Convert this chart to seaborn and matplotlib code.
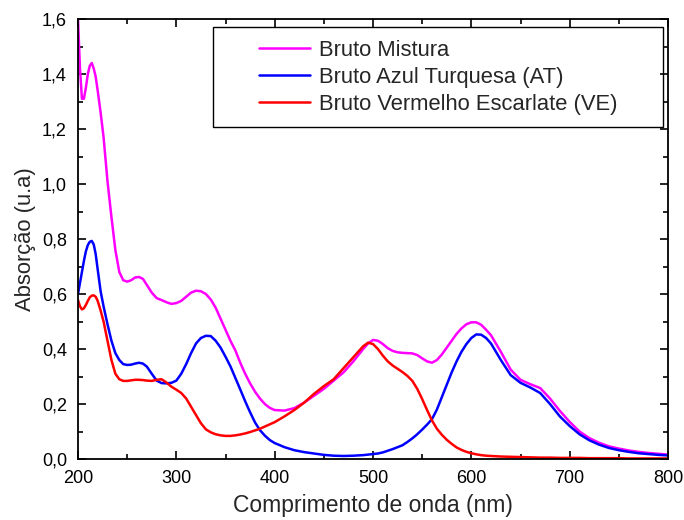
import matplotlib
matplotlib.use("Agg")
import matplotlib.pyplot as plt
from matplotlib.patches import Rectangle
from matplotlib.lines import Line2D
from matplotlib.ticker import MultipleLocator, FuncFormatter
import seaborn as sns
import pandas as pd

# Wavelength grid (nm)
wavelength = [200, 202, 204, 206, 208, 210, 212, 214, 216, 218, 220, 223, 226, 230, 234, 238,
              242, 246, 250, 254, 258, 262, 266, 270, 275, 280, 285, 290, 295, 300, 305, 310,
              315, 320, 325, 330, 335, 340, 345, 350, 355, 360, 365, 370, 375, 380, 385, 390,
              395, 400, 410, 420, 430, 440, 450, 460, 470, 480, 490, 495, 500, 505, 510, 515,
              520, 525, 530, 535, 540, 545, 550, 555, 560, 565, 570, 575, 580, 585, 590, 595,
              600, 605, 610, 615, 620, 625, 630, 640, 650, 660, 670, 680, 690, 700, 710, 720,
              730, 740, 750, 760, 770, 780, 790, 800]

# Bruto Mistura
mistura = [1.60, 1.42, 1.31, 1.31, 1.35, 1.40, 1.43, 1.44, 1.42, 1.39, 1.34, 1.26, 1.17, 1.01, 0.88, 0.76,
           0.68, 0.65, 0.645, 0.65, 0.66, 0.662, 0.655, 0.633, 0.605, 0.585, 0.578, 0.57, 0.564, 0.567, 0.575, 0.59,
           0.605, 0.612, 0.61, 0.60, 0.58, 0.55, 0.51, 0.47, 0.43, 0.395, 0.35, 0.31, 0.275, 0.245, 0.22, 0.20,
           0.186, 0.178, 0.176, 0.185, 0.205, 0.23, 0.255, 0.285, 0.315, 0.355, 0.40, 0.42, 0.433, 0.43, 0.418, 0.403,
           0.393, 0.388, 0.386, 0.385, 0.384, 0.378, 0.366, 0.355, 0.35, 0.36, 0.38, 0.405, 0.43, 0.455, 0.475, 0.49,
           0.497, 0.497, 0.488, 0.47, 0.45, 0.42, 0.39, 0.325, 0.288, 0.272, 0.258, 0.22, 0.175, 0.135, 0.10, 0.076,
           0.059, 0.046, 0.038, 0.031, 0.026, 0.022, 0.019, 0.016]

# Bruto Azul Turquesa (AT)
azul = [0.60, 0.64, 0.68, 0.72, 0.755, 0.778, 0.79, 0.793, 0.78, 0.745, 0.69, 0.61, 0.555, 0.49, 0.43, 0.385,
        0.36, 0.345, 0.342, 0.343, 0.347, 0.35, 0.347, 0.336, 0.31, 0.285, 0.276, 0.275, 0.277, 0.285, 0.31, 0.345,
        0.385, 0.42, 0.44, 0.448, 0.447, 0.43, 0.405, 0.372, 0.337, 0.295, 0.253, 0.21, 0.17, 0.133, 0.105, 0.085,
        0.069, 0.058, 0.043, 0.032, 0.025, 0.02, 0.015, 0.012, 0.011, 0.012, 0.014, 0.016, 0.018, 0.02, 0.024, 0.03,
        0.036, 0.043, 0.05, 0.062, 0.075, 0.09, 0.107, 0.125, 0.145, 0.18, 0.225, 0.27, 0.315, 0.355, 0.39, 0.418,
        0.44, 0.453, 0.452, 0.44, 0.42, 0.39, 0.36, 0.305, 0.277, 0.26, 0.24, 0.20, 0.155, 0.12, 0.09, 0.068,
        0.052, 0.04, 0.032, 0.026, 0.021, 0.018, 0.015, 0.013]

# Bruto Vermelho Escarlate (VE)
vermelho = [0.578, 0.555, 0.544, 0.548, 0.56, 0.575, 0.588, 0.594, 0.595, 0.59, 0.575, 0.54, 0.50, 0.43, 0.36, 0.31,
            0.29, 0.284, 0.284, 0.286, 0.288, 0.288, 0.287, 0.285, 0.284, 0.288, 0.29, 0.278, 0.263, 0.252, 0.24, 0.22,
            0.19, 0.16, 0.13, 0.108, 0.097, 0.09, 0.086, 0.084, 0.084, 0.086, 0.089, 0.093, 0.098, 0.104, 0.11, 0.118,
            0.126, 0.134, 0.155, 0.178, 0.205, 0.237, 0.265, 0.29, 0.33, 0.37, 0.41, 0.423, 0.418, 0.40, 0.376, 0.355,
            0.34, 0.328, 0.316, 0.302, 0.284, 0.255, 0.218, 0.178, 0.14, 0.11, 0.088, 0.07, 0.055, 0.042, 0.033, 0.026,
            0.021, 0.017, 0.014, 0.012, 0.011, 0.010, 0.009, 0.008, 0.007, 0.006, 0.005, 0.005, 0.004, 0.004, 0.004, 0.003,
            0.003, 0.003, 0.003, 0.002, 0.002, 0.002, 0.002, 0.002]

series_names = ["Bruto Mistura", "Bruto Azul Turquesa (AT)", "Bruto Vermelho Escarlate (VE)"]
series_colors = ["#FF00FF", "#0000FF", "#FF0000"]

df = pd.DataFrame({
    "wl": wavelength * 3,
    "abs": mistura + azul + vermelho,
    "amostra": [series_names[0]] * len(wavelength) + [series_names[1]] * len(wavelength)
               + [series_names[2]] * len(wavelength),
})

sns.set_theme(style="ticks")
plt.rcParams["font.family"] = ["Liberation Sans", "DejaVu Sans"]

fig = plt.figure(figsize=(6.84, 5.2), dpi=100)
ax = fig.add_axes([78 / 684, 61 / 520, 590 / 684, 440 / 520])

sns.lineplot(data=df, x="wl", y="abs", hue="amostra", hue_order=series_names,
             palette=series_colors, linewidth=1.8, ax=ax, legend=False, sort=False)

ax.set_xlim(200, 800)
ax.set_ylim(0, 1.6)
ax.xaxis.set_major_locator(MultipleLocator(100))
ax.xaxis.set_minor_locator(MultipleLocator(50))
ax.yaxis.set_major_locator(MultipleLocator(0.2))
ax.yaxis.set_minor_locator(MultipleLocator(0.1))
ax.yaxis.set_major_formatter(FuncFormatter(lambda v, p: f"{v:.1f}".replace(".", ",")))
ax.tick_params(which="both", direction="in", top=True, right=True, colors="black",
               width=1.2, labelsize=13)
ax.tick_params(which="major", length=6)
ax.tick_params(which="minor", length=3.5)
ax.tick_params(axis="y", which="major", pad=8)
ax.tick_params(axis="x", which="major", pad=8)
for s in ax.spines.values():
    s.set_linewidth(1.3)
    s.set_color("black")

ax.set_xlabel("Comprimento de onda (nm)", fontsize=16.5, labelpad=5)
ax.set_ylabel("Absorção (u.a)", fontsize=15.8, labelpad=4)

# Legend box drawn as a separate frame with the entries centred inside it
ax.add_patch(Rectangle((0.2288, 0.7545), 0.7627, 0.2273, transform=ax.transAxes,
                       fill=False, edgecolor="black", linewidth=1.0, zorder=5))
handles = [Line2D([0], [0], color=c, lw=1.8) for c in series_colors]
ax.legend(handles, series_names, loc="center", bbox_to_anchor=(0.610, 0.868),
          frameon=False, fontsize=15.8, handlelength=2.33, handletextpad=0.4,
          labelspacing=0.27, borderpad=0)

fig.savefig("out.png", dpi=100)
